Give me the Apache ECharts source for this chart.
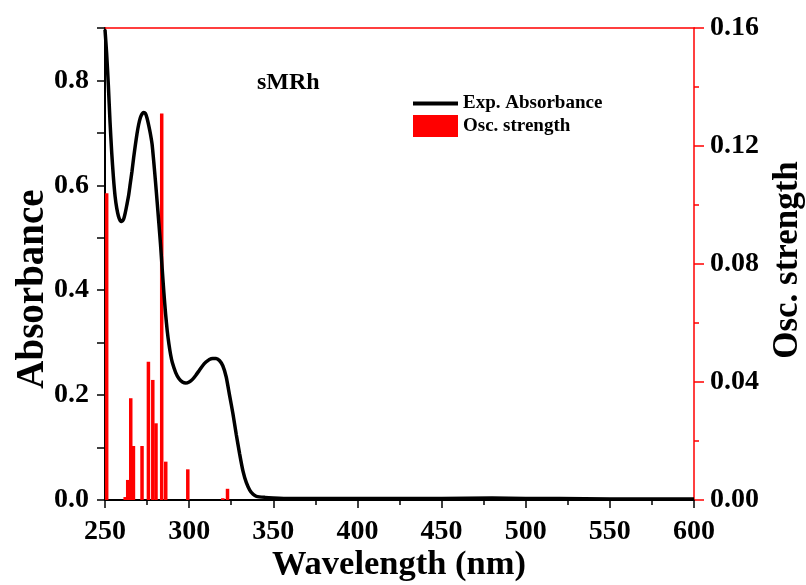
<!DOCTYPE html>
<html>
<head>
<meta charset="utf-8">
<script src="https://cdn.jsdelivr.net/npm/echarts@6/dist/echarts.min.js"></script>
<style>
  html, body { margin: 0; padding: 0; background: #fff; }
  #chart { width: 806px; height: 585px; }
</style>
</head>
<body>
<div id="chart"></div>
<script>
// Experimental absorption spectrum (nm, absorbance)
const absWavelength = [250, 251, 252, 253, 254, 255, 256, 257, 258, 259, 260, 261, 262, 263, 264, 265, 266, 267, 268, 269, 270, 271, 272, 273, 274, 275, 276, 277, 278, 279, 280, 281, 282, 283, 284, 285, 286, 287, 288, 289, 290, 292, 294, 296, 298, 300, 302, 304, 306, 308, 310, 312, 314, 316, 318, 320, 322, 324, 326, 328, 330, 332, 334, 336, 338, 340, 345, 350, 360, 380, 400, 420, 450, 480, 500, 520, 550, 580, 600];
const absorbance = [0.897, 0.85, 0.79, 0.72, 0.662, 0.615, 0.579, 0.556, 0.541, 0.533, 0.531, 0.535, 0.547, 0.563, 0.58, 0.603, 0.626, 0.652, 0.676, 0.698, 0.716, 0.729, 0.736, 0.739, 0.737, 0.728, 0.714, 0.698, 0.678, 0.644, 0.607, 0.568, 0.528, 0.487, 0.44, 0.395, 0.355, 0.322, 0.297, 0.277, 0.262, 0.243, 0.231, 0.225, 0.223, 0.225, 0.23, 0.238, 0.247, 0.256, 0.263, 0.268, 0.27, 0.27, 0.266, 0.256, 0.235, 0.2, 0.165, 0.125, 0.088, 0.055, 0.033, 0.019, 0.011, 0.007, 0.005, 0.004, 0.003, 0.003, 0.003, 0.003, 0.003, 0.004, 0.003, 0.003, 0.002, 0.002, 0.002];

// Calculated transitions (nm, oscillator strength)
const oscWavelength = [251, 262, 263.5, 265.3, 266.9, 272, 275.8, 278.4, 280.3, 283.7, 286.1, 299.2, 320, 322.8];
const oscStrength = [0.104, 0.001, 0.0068, 0.0345, 0.0183, 0.0183, 0.0469, 0.0407, 0.026, 0.131, 0.013, 0.0104, 0.0006, 0.0038];

const FONT = "'Liberation Serif', 'Times New Roman', serif";

const chart = echarts.init(document.getElementById('chart'), null, { renderer: 'canvas' });

const lineData = absWavelength.map((w, i) => [w, absorbance[i]]);
const barData = oscWavelength.map((w, i) => [w, oscStrength[i]]);

const labelStyle = { color: '#000', fontFamily: FONT, fontWeight: 'bold', fontSize: 28 };

chart.setOption({
  animation: false,
  backgroundColor: '#fff',
  grid: { left: 105, right: 112, top: 28, bottom: 85, containLabel: false },
  legend: {
    orient: 'vertical',
    left: 408,
    top: 89,
    itemWidth: 45,
    itemHeight: 22,
    itemGap: 2,
    data: [
      { name: 'Exp. Absorbance', icon: 'path://M0,0 H45 V4 H0 Z', itemStyle: { color: '#000' } },
      { name: 'Osc. strength', icon: 'rect', itemStyle: { color: '#ff0000' } }
    ],
    textStyle: { color: '#000', fontFamily: FONT, fontWeight: 'bold', fontSize: 19 }
  },
  xAxis: [
    {
      type: 'value', position: 'bottom', min: 250, max: 600, interval: 50,
      axisLine: { show: true, onZero: false, lineStyle: { color: '#000', width: 2 } },
      axisTick: { show: true, length: 8, lineStyle: { color: '#000', width: 1.5 } },
      minorTick: { show: true, splitNumber: 2, length: 5, lineStyle: { color: '#000', width: 1.5 } },
      axisLabel: Object.assign({ margin: 18 }, labelStyle),
      splitLine: { show: false }
    },
    {
      type: 'value', position: 'top', min: 250, max: 600,
      axisLine: { show: true, onZero: false, lineStyle: { color: '#ff0000', width: 1.5 } },
      axisTick: { show: false }, axisLabel: { show: false }, splitLine: { show: false }
    }
  ],
  yAxis: [
    {
      type: 'value', position: 'left', min: 0, max: 0.9, interval: 0.1,
      axisLine: { show: true, onZero: false, lineStyle: { color: '#000', width: 2 } },
      axisTick: { show: true, length: 8, lineStyle: { color: '#000', width: 1.5 } },
      axisLabel: Object.assign({
        margin: 16,
        formatter: v => {
          const k = Math.round(v * 10);
          return (k % 2 === 0 && k <= 8) ? (k / 10).toFixed(1) : '';
        }
      }, labelStyle),
      splitLine: { show: false }
    },
    {
      type: 'value', position: 'right', min: 0, max: 0.16, interval: 0.04,
      axisLine: { show: true, onZero: false, lineStyle: { color: '#ff0000', width: 1.5 } },
      axisTick: { show: true, length: 10, lineStyle: { color: '#ff0000', width: 1.5 } },
      minorTick: { show: true, splitNumber: 2, length: 5, lineStyle: { color: '#ff0000', width: 1.5 } },
      axisLabel: Object.assign({ margin: 16, formatter: v => v.toFixed(2) }, labelStyle),
      splitLine: { show: false }
    }
  ],
  series: [
    {
      name: 'Osc. strength',
      type: 'bar',
      xAxisIndex: 0,
      yAxisIndex: 1,
      barWidth: 3.5,
      itemStyle: { color: '#ff0000' },
      data: barData
    },
    {
      name: 'Exp. Absorbance',
      type: 'line',
      xAxisIndex: 0,
      yAxisIndex: 0,
      smooth: 0.2,
      symbol: 'none',
      showSymbol: false,
      lineStyle: { color: '#000', width: 3.5 },
      itemStyle: { color: '#000' },
      data: lineData
    }
  ],
  graphic: [
    {
      type: 'text', left: 257, top: 71,
      style: { text: 'sMRh', fill: '#000', font: "bold 24px " + FONT }
    },
    {
      type: 'text', x: 33, y: 289, rotation: Math.PI / 2,
      style: { text: 'Absorbance', fill: '#000', font: "bold 39px " + FONT, textAlign: 'center', textVerticalAlign: 'middle' }
    },
    {
      type: 'text', x: 788, y: 260, rotation: Math.PI / 2,
      style: { text: 'Osc. strength', fill: '#000', font: "bold 35px " + FONT, textAlign: 'center', textVerticalAlign: 'middle' }
    },
    {
      type: 'text', x: 399, y: 565,
      style: { text: 'Wavelength (nm)', fill: '#000', font: "bold 34.5px " + FONT, textAlign: 'center', textVerticalAlign: 'middle' }
    }
  ]
});
</script>
</body>
</html>
